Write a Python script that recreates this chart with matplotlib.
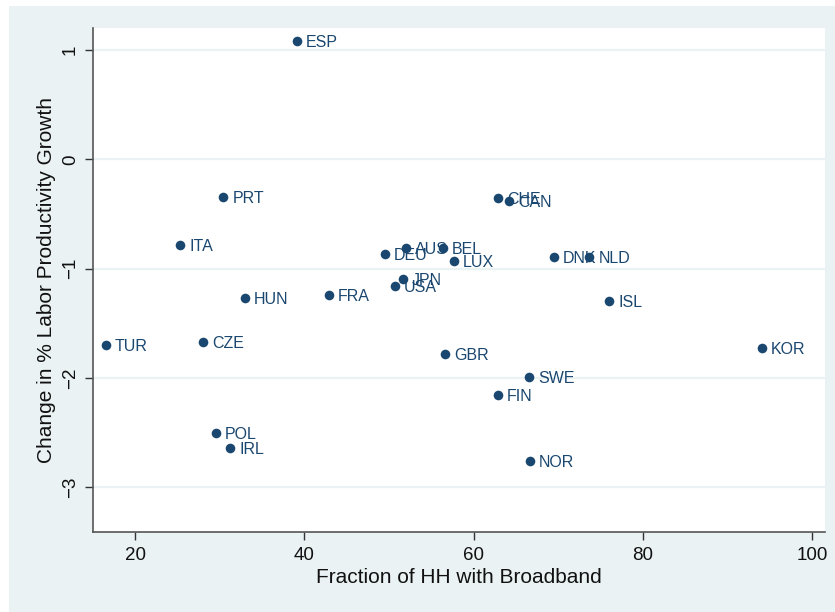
import matplotlib
matplotlib.use("Agg")
import matplotlib.pyplot as plt
from matplotlib.patches import Rectangle

countries = ["ESP", "PRT", "ITA", "HUN", "FRA", "TUR", "CZE", "POL", "IRL",
             "GBR", "SWE", "FIN", "NOR", "KOR", "CHE", "CAN", "AUS", "DEU",
             "BEL", "LUX", "DNK", "NLD", "JPN", "USA", "ISL"]
broadband = [39.12, 30.40, 25.28, 32.93, 42.90, 16.50, 28.04, 29.50, 31.19,
             56.65, 66.54, 62.84, 66.66, 94.05, 62.91, 64.18, 51.97, 49.52,
             56.34, 57.68, 69.50, 73.67, 51.61, 50.70, 76.00]
prod_change = [1.082, -0.342, -0.784, -1.271, -1.244, -1.698, -1.668, -2.506, -2.637,
               -1.781, -1.988, -2.158, -2.759, -1.728, -0.357, -0.378, -0.808, -0.866,
               -0.808, -0.927, -0.890, -0.896, -1.098, -1.159, -1.293]
xticks = [20, 40, 60, 80, 100]
yticks = [-3, -2, -1, 0, 1]

plt.rcParams['font.family'] = ['Liberation Sans', 'DejaVu Sans']

W, H = 835, 612
fig = plt.figure(figsize=(W / 100, H / 100), dpi=100, facecolor='white')
bg = '#eaf2f3'
fig.patches.append(Rectangle((9 / W, 0), 1, 1 - 6 / H, transform=fig.transFigure,
                             facecolor=bg, edgecolor='none', zorder=-10))

ax = fig.add_axes([92.7 / W, 1 - 531.7 / H, (825 - 92.7) / W, (531.7 - 27.7) / H])
ax.set_facecolor('white')
navy = '#1a476f'
ax.scatter(broadband, prod_change, s=48, color=navy, zorder=3, linewidths=0)
for c, x, y in zip(countries, broadband, prod_change):
    ax.annotate(c, (x, y), xytext=(6.5, -1), textcoords='offset points',
                ha='left', va='center', fontsize=11.5, color=navy, zorder=4)

ax.set_xlim(14.96, 101.54)
ax.set_ylim(-3.406, 1.204)
ax.set_xticks(xticks)
ax.set_yticks(yticks)
ax.grid(axis='y', color=bg, linewidth=1.6, zorder=0)
ax.set_axisbelow(True)
for s in ['top', 'right']:
    ax.spines[s].set_visible(False)
for s in ['left', 'bottom']:
    ax.spines[s].set_color('#555555')
    ax.spines[s].set_linewidth(1.2)
ax.tick_params(axis='both', direction='out', length=6, width=1, color='#333333',
               labelsize=13.5, labelcolor='#111111')
ax.tick_params(axis='x', pad=5)
ax.tick_params(axis='y', labelrotation=90, pad=4)
for lbl in ax.get_yticklabels():
    lbl.set_va('center')
ax.set_xlabel('Fraction of HH with Broadband', fontsize=15, color='#111111', labelpad=3)
ax.set_ylabel('Change in % Labor Productivity Growth', fontsize=15, color='#111111', labelpad=4)

fig.savefig('out.png', dpi=100, facecolor='white')
